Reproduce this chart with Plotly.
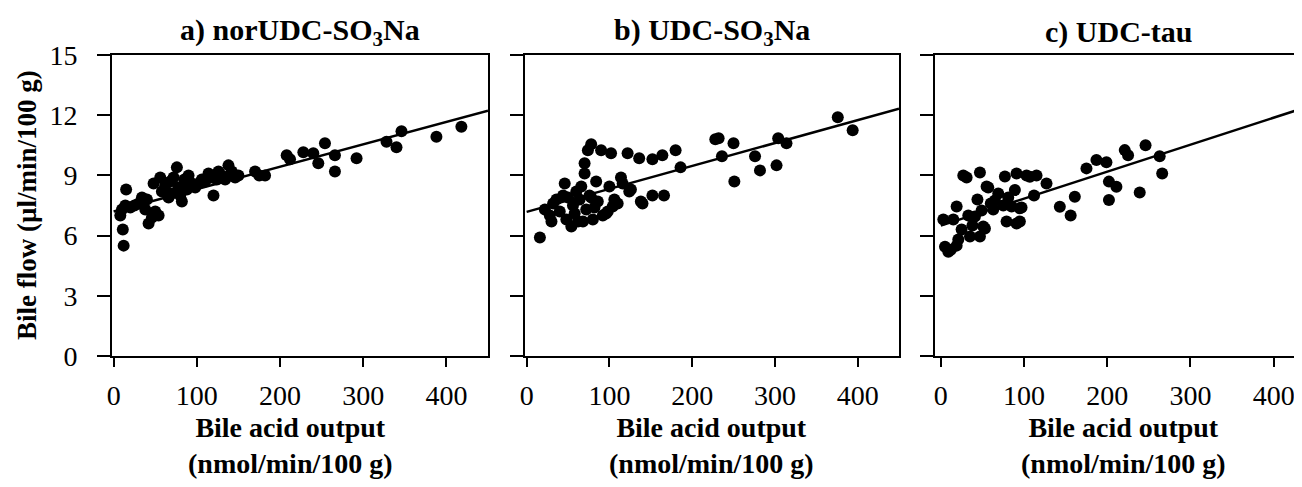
import plotly.graph_objects as go

# ---------------- data ----------------
a_x = [8, 10, 11, 12, 15, 14, 20, 25, 30, 34, 38, 40, 42, 46, 48, 50, 54, 56, 58, 62,
       66, 68, 70, 72, 76, 78, 80, 82, 85, 88, 90, 94, 98, 102, 106, 110, 114, 118, 120, 124,
       126, 130, 134, 138, 142, 146, 150, 170, 175, 182, 208, 212, 228, 240, 246, 254, 266, 266,
       292, 328, 340, 346, 388, 418]
a_y = [7.0, 7.3, 6.3, 5.5, 8.3, 7.5, 7.4, 7.5, 7.6, 7.9, 7.3, 7.8, 6.6, 6.9, 8.6, 7.2, 7.0, 8.9, 8.2, 8.5,
       7.9, 8.7, 8.1, 8.9, 9.4, 8.4, 8.0, 7.7, 8.8, 8.3, 9.0, 8.6, 8.4, 8.6, 8.8, 8.7, 9.1, 8.9, 8.0, 8.8,
       9.2, 9.0, 8.8, 9.5, 9.2, 8.9, 9.0, 9.2, 9.0, 9.0, 10.0, 9.8, 10.15, 10.1, 9.6, 10.6, 10.0, 9.2,
       9.85, 10.68, 10.4, 11.2, 10.93, 11.43]

b_x = [16, 22, 28, 30, 32, 36, 40, 44, 46, 48, 50, 54, 56, 58, 60, 62, 64, 66, 68, 70,
       70, 72, 74, 76, 78, 78, 80, 82, 84, 86, 90, 92, 96, 98, 100, 102, 104, 106, 110, 114,
       116, 122, 124, 126, 136, 138, 140, 152, 152, 164, 166, 180, 186, 228, 232, 236, 250, 251,
       276, 282, 302, 304, 314, 376, 394]
b_y = [5.9, 7.3, 7.0, 6.7, 7.6, 7.8, 7.2, 8.0, 8.6, 6.8, 7.9, 6.45, 7.5, 7.1, 8.2, 6.7, 7.8, 8.45, 6.7, 9.6,
       9.1, 7.3, 10.25, 8.0, 10.55, 7.9, 6.8, 7.4, 8.7, 7.7, 10.25, 7.0, 7.1, 7.2, 8.45, 10.1, 7.45, 7.8, 7.6, 8.9,
       8.6, 10.1, 8.2, 8.3, 9.85, 7.7, 7.6, 9.8, 8.0, 10.0, 8.0, 10.25, 9.4, 10.8, 10.85, 9.95, 10.6, 8.7,
       9.95, 9.25, 9.5, 10.85, 10.6, 11.9, 11.25]

c_x = [5, 9, 12, 3, 15, 19, 19, 21, 25, 27, 31, 33, 35, 38, 41, 44, 47, 47, 49, 51,
       53, 55, 57, 60, 63, 65, 69, 75, 77, 79, 81, 85, 89, 91, 91, 95, 95, 97, 103, 107,
       112, 115, 127, 143, 156, 161, 175, 187, 199, 202, 202, 211, 221, 225, 239, 246, 263, 266]
c_y = [5.45, 5.2, 5.3, 6.8, 6.8, 7.45, 5.5, 5.8, 6.3, 9.0, 8.9, 7.0, 5.95, 6.5, 6.95, 7.8, 9.15, 5.95, 7.25, 6.45,
       6.35, 8.45, 8.4, 7.6, 7.3, 7.75, 8.1, 7.5, 8.95, 6.7, 7.9, 7.45, 8.27, 9.1, 6.6, 7.36, 6.7, 7.4, 9.0, 8.93,
       8.0, 9.0, 8.6, 7.44, 7.0, 7.94, 9.35, 9.77, 9.65, 8.69, 7.77, 8.44, 10.26, 10.0, 8.15, 10.5, 9.95, 9.1]

fit_x = [0, 450]
fit_a = [7.2, 12.22]
fit_b = [7.18, 12.33]
fit_c = [6.5, 12.55]

titles = ["a) norUDC-SO<sub>3</sub>Na", "b) UDC-SO<sub>3</sub>Na", "c) UDC-tau"]
x_ticks = [0, 100, 200, 300, 400]
y_ticks = [0, 3, 6, 9, 12, 15]
x_title = "Bile acid output<br>(nmol/min/100 g)"
y_title = "Bile flow (µl/min/100 g)"

# ---------------- figure ----------------
OFF = 8                      # page body margin of the html
W, H = 1302 - OFF, 487 - OFF
SERIF = "Liberation Serif, Times New Roman, serif"


def fx(p):  # page pixel x -> paper fraction
    return (p - OFF) / W


def fy(p):  # page pixel y -> paper fraction
    return 1 - (p - OFF) / H


fig = go.Figure()
panels = [(a_x, a_y, fit_a), (b_x, b_y, fit_b), (c_x, c_y, fit_c)]
for i, (xs, ys, fity) in enumerate(panels):
    suffix = "" if i == 0 else str(i + 1)
    fig.add_trace(go.Scatter(x=xs, y=ys, mode="markers",
                             marker=dict(size=12, color="black"),
                             xaxis="x" + suffix, yaxis="y" + suffix, showlegend=False))
    fig.add_trace(go.Scatter(x=fit_x, y=fity, mode="lines",
                             line=dict(color="black", width=2.5),
                             xaxis="x" + suffix, yaxis="y" + suffix, showlegend=False))

px_dom = [(112, 488), (525, 899), (935, 1302)]
x_ranges = [[-2, 450], [-2, 450], [-7, 434]]
ydom = [fy(356), fy(55)]

axis_common = dict(showline=True, linecolor="black", linewidth=2, ticks="outside",
                   tickcolor="black", tickwidth=2, showgrid=False, zeroline=False,
                   automargin=False,
                   tickfont=dict(family=SERIF, size=28, color="black"))

layout = dict(template="none", width=W, height=H, margin=dict(l=0, r=0, t=0, b=0, pad=0),
              plot_bgcolor="white", paper_bgcolor="white", showlegend=False)
for i in range(3):
    suffix = "" if i == 0 else str(i + 1)
    d0, d1 = px_dom[i]
    layout["xaxis" + suffix] = dict(axis_common, domain=[fx(d0), min(fx(d1), 1.0)], range=x_ranges[i],
                                    tickvals=x_ticks, ticklen=9, mirror=True,
                                    anchor="y" + suffix, ticklabelstandoff=4)
    layout["yaxis" + suffix] = dict(axis_common, domain=ydom, range=[0, 15],
                                    tickvals=y_ticks, ticklen=13,
                                    mirror=(i < 2), anchor="x" + suffix,
                                    showticklabels=(i == 0), ticklabelstandoff=14)
fig.update_layout(**layout)

title_cx = [300, 712, 1118]
xt_cx = [290, 711, 1123]
ann = []
for i in range(3):
    ann.append(dict(text="<b>" + titles[i] + "</b>", x=fx(title_cx[i]), y=fy(32),
                    xref="paper", yref="paper", showarrow=False, xanchor="center", yanchor="middle",
                    font=dict(family=SERIF, size=30, color="black")))
    ann.append(dict(text="<b>" + x_title + "</b>", x=fx(xt_cx[i]), y=fy(445),
                    xref="paper", yref="paper", showarrow=False, xanchor="center", yanchor="middle",
                    font=dict(family=SERIF, size=28, color="black")))
ann.append(dict(text="<b>" + y_title + "</b>", x=fx(27), y=fy(205), textangle=-90,
                xref="paper", yref="paper", showarrow=False, xanchor="center", yanchor="middle",
                font=dict(family=SERIF, size=27, color="black")))
fig.update_layout(annotations=ann)

fig.write_html("out.html")
